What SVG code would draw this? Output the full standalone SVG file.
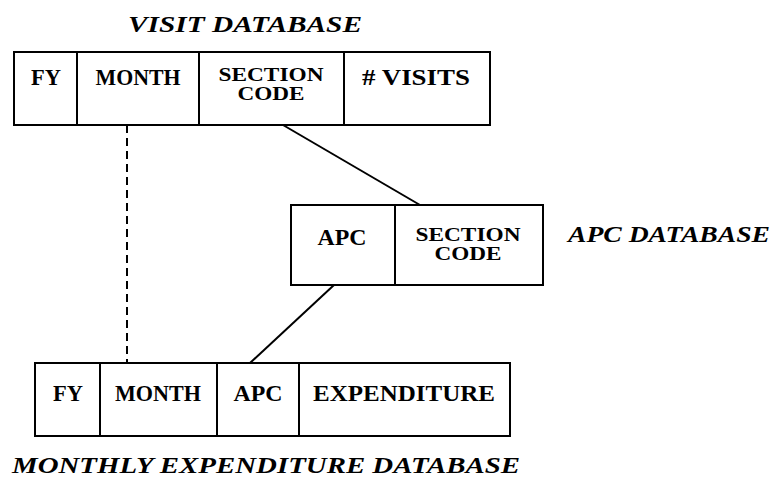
<svg xmlns="http://www.w3.org/2000/svg" width="780" height="479" viewBox="0 0 780 479">
<style>
.box{fill:none;stroke:#000;stroke-width:2}
.div{stroke:#000;stroke-width:2}
.t{font-family:"Liberation Serif",serif;font-weight:bold;font-size:23px;text-anchor:middle;fill:#000}
.s{font-family:"Liberation Serif",serif;font-weight:bold;font-size:19px;text-anchor:middle;fill:#000}
.title{font-family:"Liberation Serif",serif;font-weight:bold;font-style:italic;font-size:24px;fill:#000}
.conn{stroke:#000;stroke-width:2;fill:none}
.dash{stroke-dasharray:8 5}
</style>
<rect width="780" height="479" fill="#fff"/>
<g id="connectors">
<line class="conn dash" x1="127" y1="125" x2="127" y2="363"/>
<line class="conn" x1="283" y1="125" x2="420" y2="205"/>
<line class="conn" x1="250" y1="363" x2="334" y2="285"/>
</g>
<g id="visit-db">
<text class="title" x="128" y="32" textLength="234" lengthAdjust="spacingAndGlyphs">VISIT DATABASE</text>
<rect class="box" x="14" y="52" width="476" height="73"/>
<line class="div" x1="77" y1="52" x2="77" y2="125"/>
<line class="div" x1="199" y1="52" x2="199" y2="125"/>
<line class="div" x1="344" y1="52" x2="344" y2="125"/>
<text class="t" x="46" y="85" textLength="30" lengthAdjust="spacingAndGlyphs">FY</text>
<text class="t" x="138" y="85" textLength="85" lengthAdjust="spacingAndGlyphs">MONTH</text>
<text class="s" x="271" y="81" textLength="105" lengthAdjust="spacingAndGlyphs">SECTION</text>
<text class="s" x="271" y="100" textLength="67" lengthAdjust="spacingAndGlyphs">CODE</text>
<text class="t" x="416" y="85" textLength="108" lengthAdjust="spacingAndGlyphs"># VISITS</text>
</g>
<g id="apc-db">
<rect class="box" x="291" y="205" width="252" height="80"/>
<line class="div" x1="395" y1="205" x2="395" y2="285"/>
<text class="t" x="342" y="245" textLength="49" lengthAdjust="spacingAndGlyphs">APC</text>
<text class="s" x="468" y="241" textLength="105" lengthAdjust="spacingAndGlyphs">SECTION</text>
<text class="s" x="468" y="260" textLength="67" lengthAdjust="spacingAndGlyphs">CODE</text>
<text class="title" x="568" y="242" textLength="202" lengthAdjust="spacingAndGlyphs">APC DATABASE</text>
</g>
<g id="expenditure-db">
<rect class="box" x="35" y="363" width="475" height="73"/>
<line class="div" x1="100" y1="363" x2="100" y2="436"/>
<line class="div" x1="217" y1="363" x2="217" y2="436"/>
<line class="div" x1="299" y1="363" x2="299" y2="436"/>
<text class="t" x="68" y="401" textLength="30" lengthAdjust="spacingAndGlyphs">FY</text>
<text class="t" x="158" y="401" textLength="86" lengthAdjust="spacingAndGlyphs">MONTH</text>
<text class="t" x="258" y="401" textLength="49" lengthAdjust="spacingAndGlyphs">APC</text>
<text class="t" x="404" y="401" textLength="182" lengthAdjust="spacingAndGlyphs">EXPENDITURE</text>
<text class="title" x="12" y="473" textLength="508" lengthAdjust="spacingAndGlyphs">MONTHLY EXPENDITURE DATABASE</text>
</g>
</svg>
